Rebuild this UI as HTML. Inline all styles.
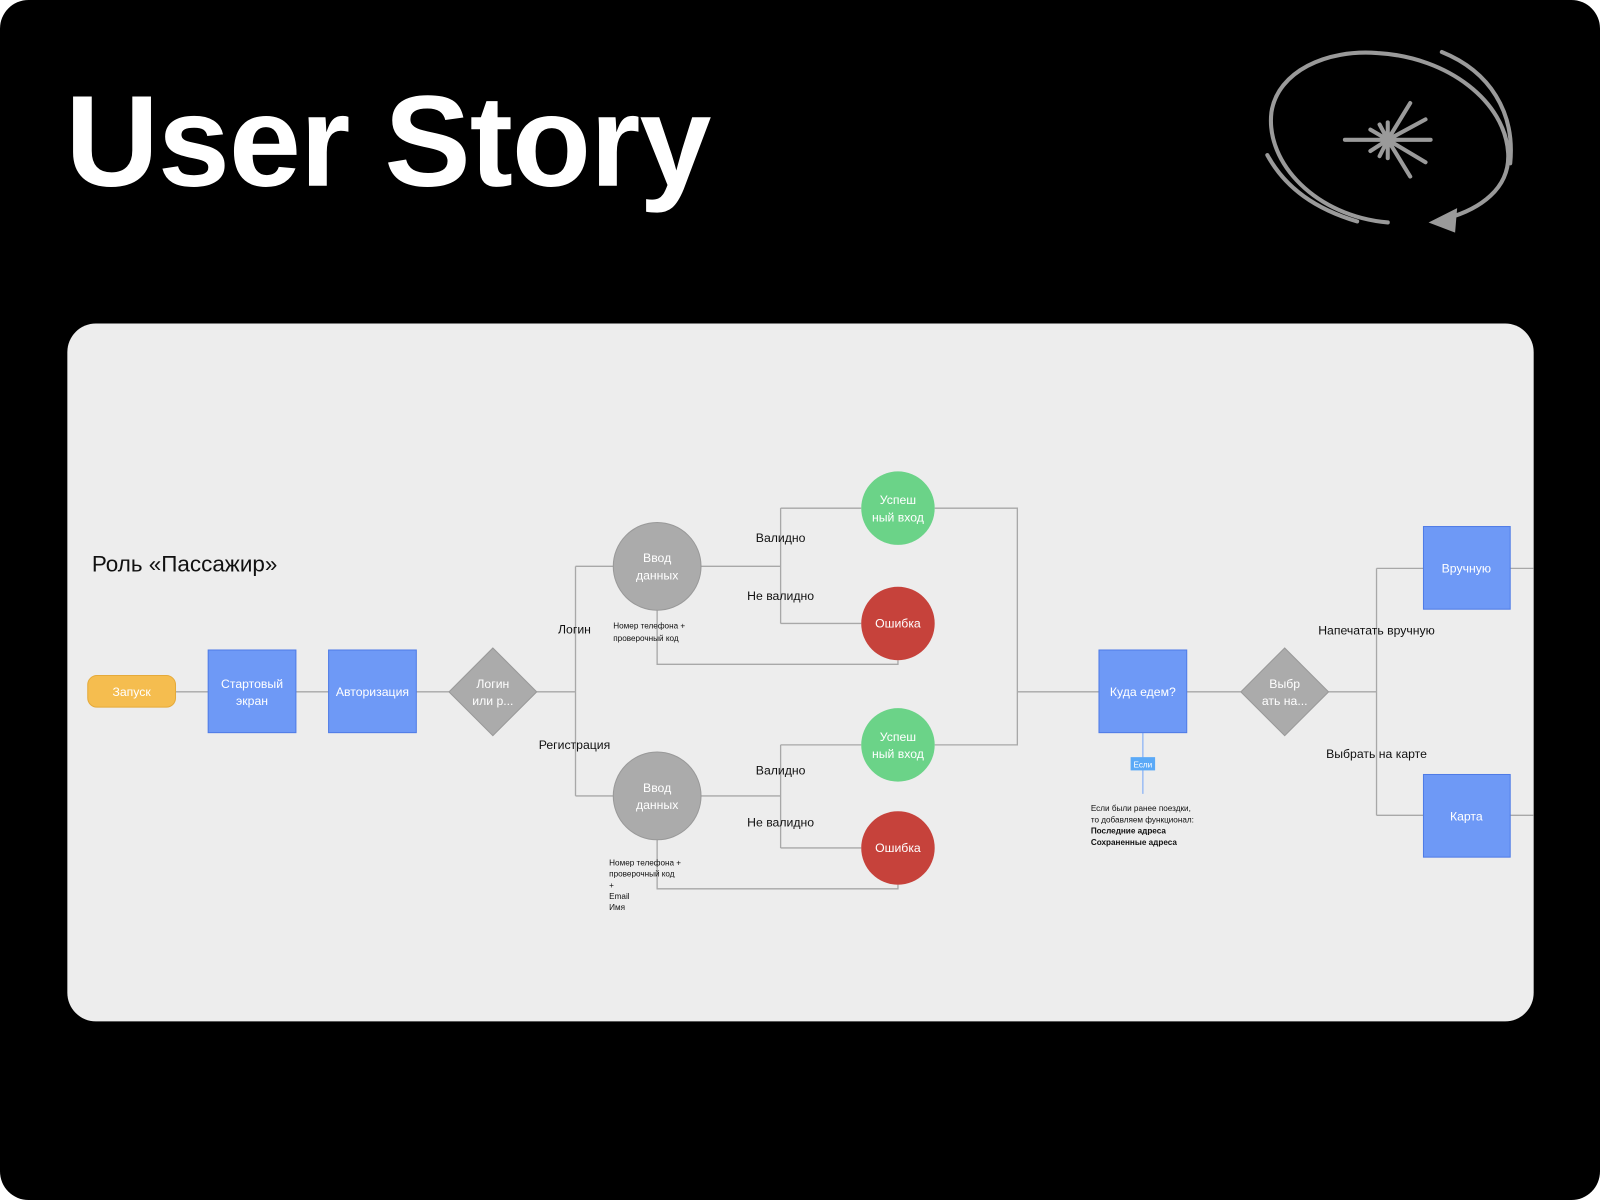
<!DOCTYPE html>
<html><head><meta charset="utf-8"><style>
html,body{margin:0;padding:0;background:#fff;width:1600px;height:1200px;overflow:hidden}
svg{display:block}
text{font-family:"Liberation Sans","DejaVu Sans",sans-serif}
</style></head><body>
<svg width="1600" height="1200" viewBox="0 0 1568 1176" xmlns="http://www.w3.org/2000/svg">
<rect x="0" y="0" width="1568" height="1176" rx="28" fill="#000"/>
<text x="64" y="182" fill="#fff" font-size="127" font-weight="bold" letter-spacing="-1">User Story</text>
<!-- logo -->
<g fill="none" stroke="#9a9a9a" stroke-width="4" stroke-linecap="round">
<path d="M1360 218 C1290 212 1240 160 1246 110 C1252 70 1300 48 1350 52 C1420 56 1475 100 1478 150 C1480 185 1450 205 1418 214"/>
<path d="M1413 51 C1460 70 1485 110 1480 160"/>
<path d="M1242 152 C1260 185 1290 205 1330 217"/>
<path d="M1318 137 H1402 M1360 120 V155 M1360 137 L1382 101 M1360 137 L1382 173 M1360 137 L1397 117 M1360 137 L1397 159 M1360 137 L1343 127 M1360 137 L1343 148 M1360 137 L1352 122 M1360 137 L1352 153"/>
</g>
<polygon points="1400,218 1428,204 1426,228" fill="#9a9a9a"/>
<!-- panel -->
<rect x="66" y="317" width="1437" height="684" rx="28" fill="#ededed"/>
<text x="90" y="560" font-size="22" fill="#111">Роль «Пассажир»</text>
<g fill="none" stroke="#a8a8a8" stroke-width="1.3">
<path d="M172 678 H204 M290 678 H322 M408 678 H440 M526 678 H564 M564 555 V780 M564 555 H601 M564 780 H601"/>
<path d="M687 555 H765 M765 498 V611 M765 498 H844 M765 611 H844"/>
<path d="M687 780 H765 M765 730 V831 M765 730 H844 M765 831 H844"/>
<path d="M880 647 V651 H644 V598 M880 867 V871 H644 V823"/>
<path d="M916 498 H997 V730 H916 M997 678 H1077 M1163 678 H1216 M1302 678 H1349 M1349 557 V799 M1349 557 H1395 M1349 799 H1395 M1480 557 H1503 M1480 799 H1503"/>
</g>
<line x1="1120" y1="718" x2="1120" y2="778" stroke="#8fb6f5" stroke-width="1.3"/>
<rect x="1108" y="742" width="24" height="13" fill="#5aa9f7"/>
<text x="1120" y="752" font-size="8" fill="#fff" text-anchor="middle">Если</text>
<!-- nodes -->
<rect x="86" y="662" width="86" height="31" rx="9" fill="#f5bd4f" stroke="#e5aa3a"/>
<text x="129" y="682" font-size="12" fill="#fff" text-anchor="middle">Запуск</text>
<rect x="204" y="637" width="86" height="81" fill="#6e99f6" stroke="#4f7be6"/>
<text x="247" y="674" font-size="12" fill="#fff" text-anchor="middle">Стартовый</text>
<text x="247" y="691" font-size="12" fill="#fff" text-anchor="middle">экран</text>
<rect x="322" y="637" width="86" height="81" fill="#6e99f6" stroke="#4f7be6"/>
<text x="365" y="682" font-size="12" fill="#fff" text-anchor="middle">Авторизация</text>
<polygon points="483,635 526,678 483,721 440,678" fill="#ababab" stroke="#999"/>
<text x="483" y="674" font-size="12" fill="#fff" text-anchor="middle">Логин</text>
<text x="483" y="691" font-size="12" fill="#fff" text-anchor="middle">или р...</text>
<g font-size="12" fill="#fff" text-anchor="middle">
<circle cx="644" cy="555" r="43" fill="#ababab" stroke="#999"/>
<text x="644" y="551">Ввод</text><text x="644" y="568">данных</text>
<circle cx="644" cy="780" r="43" fill="#ababab" stroke="#999"/>
<text x="644" y="776">Ввод</text><text x="644" y="793">данных</text>
<circle cx="880" cy="498" r="36" fill="#6bd388"/>
<text x="880" y="494">Успеш</text><text x="880" y="511">ный вход</text>
<circle cx="880" cy="611" r="36" fill="#c6423b"/>
<text x="880" y="615">Ошибка</text>
<circle cx="880" cy="730" r="36" fill="#6bd388"/>
<text x="880" y="726">Успеш</text><text x="880" y="743">ный вход</text>
<circle cx="880" cy="831" r="36" fill="#c6423b"/>
<text x="880" y="835">Ошибка</text>
<rect x="1077" y="637" width="86" height="81" fill="#6e99f6" stroke="#4f7be6"/>
<text x="1120" y="682">Куда едем?</text>
<polygon points="1259,635 1302,678 1259,721 1216,678" fill="#ababab" stroke="#999"/>
<text x="1259" y="674">Выбр</text><text x="1259" y="691">ать на...</text>
<rect x="1395" y="516" width="85" height="81" fill="#6e99f6" stroke="#4f7be6"/>
<text x="1437" y="561">Вручную</text>
<rect x="1395" y="759" width="85" height="81" fill="#6e99f6" stroke="#4f7be6"/>
<text x="1437" y="804">Карта</text>
</g>
<g font-size="12" fill="#111" text-anchor="middle">
<text x="563" y="621">Логин</text><text x="563" y="734">Регистрация</text>
<text x="765" y="531">Валидно</text><text x="765" y="588">Не валидно</text>
<text x="765" y="759">Валидно</text><text x="765" y="810">Не валидно</text>
<text x="1349" y="622">Напечатать вручную</text><text x="1349" y="743">Выбрать на карте</text>
</g>
<g font-size="8" fill="#111">
<text x="601" y="616">Номер телефона +</text><text x="601" y="628">проверочный код</text>
<text x="597" y="848">Номер телефона +</text><text x="597" y="859">проверочный код</text>
<text x="597" y="870">+</text><text x="597" y="881">Email</text><text x="597" y="892">Имя</text>
<text x="1069" y="795">Если были ранее поездки,</text><text x="1069" y="806">то добавляем функционал:</text>
<text x="1069" y="817" font-weight="bold">Последние адреса</text><text x="1069" y="828" font-weight="bold">Сохраненные адреса</text>
</g>
</svg>
</body></html>
